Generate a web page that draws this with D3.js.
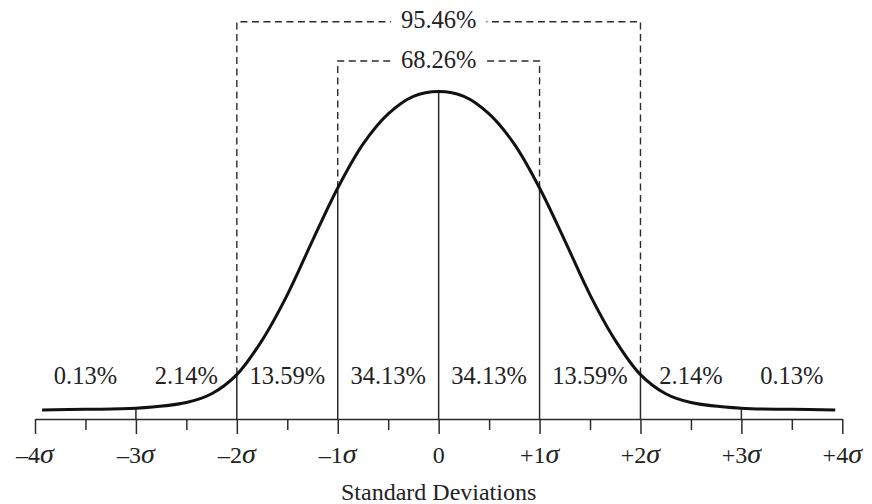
<!DOCTYPE html>
<html>
<head>
<meta charset="utf-8">
<script src="https://cdn.jsdelivr.net/npm/d3@7"></script>
<style>
  html, body { margin: 0; padding: 0; background: #fff; }
  svg { display: block; }
  text { font-family: "Liberation Serif", "Times New Roman", serif; fill: #222; }
</style>
</head>
<body>
<svg id="chart" width="872" height="504"></svg>
<script>
// ---- data ----
const xTicks = [-4, -3, -2, -1, 0, 1, 2, 3, 4];
const tickLabels = ["–4σ", "–3σ", "–2σ", "–1σ", "0", "+1σ", "+2σ", "+3σ", "+4σ"];
const minorTicks = [-3.5, -2.5, -1.5, -0.5, 0.5, 1.5, 2.5, 3.5];
const segmentLabels = ["0.13%", "2.14%", "13.59%", "34.13%", "34.13%", "13.59%", "2.14%", "0.13%"];
const curveZ = [-3.93, -3.5, -3, -2.5, -2.25, -2, -1.75, -1.5, -1.25, -1, -0.75, -0.5, -0.25, 0,
                 0.25, 0.5, 0.75, 1, 1.25, 1.5, 1.75, 2, 2.25, 2.5, 3, 3.5, 3.93];
const curveDensity = [0.0006, 0.0015, 0.0028, 0.010, 0.021, 0.045, 0.088, 0.145, 0.213, 0.279, 0.334, 0.372, 0.394, 0.400,
                      0.394, 0.372, 0.334, 0.279, 0.213, 0.145, 0.088, 0.045, 0.021, 0.010, 0.0028, 0.0015, 0.0006];
const bracketLow = [-1, -2];
const bracketHigh = [1, 2];
const bracketLabels = ["68.26%", "95.46%"];
const axisTitle = "Standard Deviations";

// ---- layout ----
const svg = d3.select("#chart");
const x = d3.scaleLinear().domain([-4, 4]).range([35, 842.3]);
const y = d3.scaleLinear().domain([0, 0.4]).range([410.5, 91.5]);
const axisY = 419;
const bracketTops = [61, 21.7];
const ink = "#2b2b2b";
const dash = "7,4.5";

const curveAt = z => curveDensity[curveZ.indexOf(z)];

// axis: major ticks
const gMajor = svg.append("g").attr("transform", `translate(0,${axisY})`)
  .call(d3.axisBottom(x).tickValues(xTicks).tickSize(15).tickSizeOuter(0).tickFormat(""));
const gMinor = svg.append("g").attr("transform", `translate(0,${axisY})`)
  .call(d3.axisBottom(x).tickValues(minorTicks).tickSize(11).tickSizeOuter(0).tickFormat(""));
gMinor.select(".domain").remove();
[gMajor, gMinor].forEach(g => {
  g.selectAll("path, line").attr("stroke", ink).attr("stroke-width", 1.5);
});

// tick labels with italic sigma
const tl = svg.append("g").selectAll("text").data(xTicks).join("text")
  .attr("x", d => x(d)).attr("y", 463).attr("text-anchor", "middle")
  .attr("font-size", 24);
tl.each(function(d, i) {
  const s = tickLabels[i];
  const t = d3.select(this);
  if (s.endsWith("σ")) {
    t.append("tspan").text(s.slice(0, -1));
    t.append("tspan").attr("font-style", "italic").attr("font-size", 28).text("σ");
  } else {
    t.text(s);
  }
});

// axis title
svg.append("text").attr("x", x(0)).attr("y", 500).attr("text-anchor", "middle")
  .attr("font-size", 24).text(axisTitle);

// vertical solid lines from axis to curve
const solidAt = [-3, -2, -1, 0, 1, 2, 3];
svg.append("g").selectAll("line").data(solidAt).join("line")
  .attr("x1", d => x(d)).attr("x2", d => x(d))
  .attr("y1", axisY).attr("y2", d => y(curveAt(d)))
  .attr("stroke", ink).attr("stroke-width", 1.5);

// percentage labels in each segment
svg.append("g").selectAll("text").data(segmentLabels).join("text")
  .attr("x", (d, i) => (x(xTicks[i]) + x(xTicks[i + 1])) / 2)
  .attr("y", 384).attr("text-anchor", "middle").attr("font-size", 24.5)
  .text(d => d);

// brackets
bracketLabels.forEach((lab, i) => {
  const lo = bracketLow[i], hi = bracketHigh[i], top = bracketTops[i];
  const cx = x((lo + hi) / 2);
  const t = svg.append("text").attr("x", cx).attr("y", top + 6.5)
    .attr("text-anchor", "middle").attr("font-size", 24.5).text(lab);
  const hw = t.node().getComputedTextLength() / 2;
  const pad = 10;
  const g = svg.append("g").attr("fill", "none").attr("stroke", ink)
    .attr("stroke-width", 1.4).attr("stroke-dasharray", dash);
  g.append("path").attr("d", `M${x(lo)},${y(curveAt(lo))}V${top}H${cx - hw - pad}`);
  g.append("path").attr("d", `M${x(hi)},${y(curveAt(hi))}V${top}H${cx + hw + pad}`);
});

// the curve
const line = d3.line().x((d, i) => x(curveZ[i])).y(d => y(d)).curve(d3.curveCatmullRom.alpha(0.5));
svg.append("path").datum(curveDensity).attr("d", line)
  .attr("fill", "none").attr("stroke", "#111").attr("stroke-width", 3);
</script>
</body>
</html>
